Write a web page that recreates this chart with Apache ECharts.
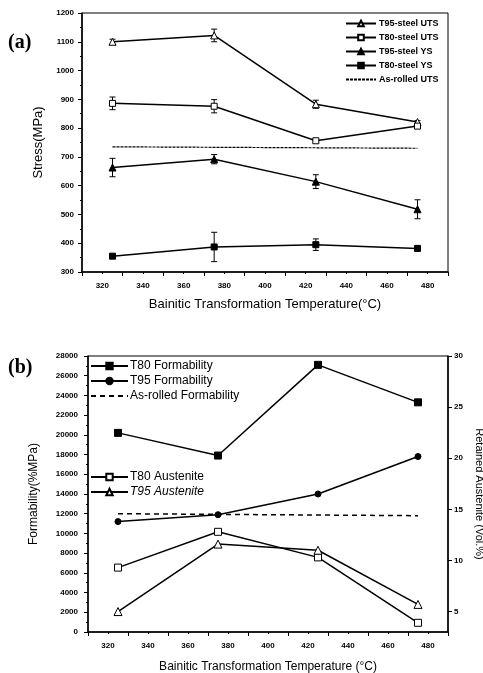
<!DOCTYPE html>
<html>
<head>
<meta charset="utf-8">
<script src="https://cdn.jsdelivr.net/npm/echarts@6/dist/echarts.min.js"></script>
<style>
  html, body { margin: 0; padding: 0; background: #fff; }
  #chart { width: 483px; height: 673px; }
</style>
</head>
<body>
<div id="chart"></div>
<script>
// temperatures (x) shared by both panels
const temps = [325, 375, 425, 475];
const xTicks = [320, 340, 360, 380, 400, 420, 440, 460, 480];

// panel (a) - stress, MPa
const t95Uts = [1100, 1122, 883, 821];
const t95UtsErr = [9, 22, 14, 5];
const t80Uts = [886, 876, 756, 807];
const t80UtsErr = [22, 23, 4, 5];
const t95Ys = [663, 692, 614, 518];
const t95YsErr = [32, 16, 24, 33];
const t80Ys = [355, 387, 395, 382];
const t80YsErr = [0, 51, 20, 0];
const asRolledX = [325, 475];
const asRolledUts = [735, 730];

// panel (b) - formability (%MPa) and retained austenite (vol.%)
const t80Form = [20200, 17900, 27100, 23300];
const t95Form = [11200, 11900, 14000, 17800];
const asRolledForm = [12000, 11800];
const t80Aust = [9.3, 12.8, 10.3, 3.9];
const t95Aust = [5.0, 11.6, 11.0, 5.7];
const austTicks = [5, 10, 15, 20, 25, 30];

const FONT = 'Arial, "Liberation Sans", sans-serif';

function pairs(xs, ys) {
  return xs.map((x, i) => [x, ys[i]]);
}
function errData(ys, errs) {
  return temps.map((x, i) => [x, ys[i], errs[i]]);
}

function errorBars(params, api) {
  const x = api.value(0), y = api.value(1), e = api.value(2);
  if (!e) return;
  const top = api.coord([x, y + e]);
  const bot = api.coord([x, y - e]);
  const hw = 3;
  const st = { stroke: '#000', lineWidth: 1 };
  return {
    type: 'group',
    children: [
      { type: 'line', shape: { x1: top[0], y1: top[1], x2: bot[0], y2: bot[1] }, style: st },
      { type: 'line', shape: { x1: top[0] - hw, y1: top[1], x2: top[0] + hw, y2: top[1] }, style: st },
      { type: 'line', shape: { x1: bot[0] - hw, y1: bot[1], x2: bot[0] + hw, y2: bot[1] }, style: st }
    ]
  };
}

const tickLabel = {
  color: '#000', fontFamily: FONT, fontWeight: 'bold', fontSize: 8,
  formatter: v => String(v)
};

function xAxisFor(grid, gap, name, nameSize) {
  return {
    type: 'value', gridIndex: grid, min: 310, max: 490, interval: 20,
    name: name, nameLocation: 'middle', nameGap: gap,
    nameTextStyle: { color: '#000', fontFamily: FONT, fontSize: nameSize },
    axisLine: { onZero: false, lineStyle: { color: '#000', width: 1.5 } },
    axisTick: { length: 4, lineStyle: { color: '#000' } },
    minorTick: { show: true, splitNumber: 2, length: 2, lineStyle: { color: '#000' } },
    axisLabel: Object.assign({ margin: 10, customValues: xTicks }, tickLabel),
    splitLine: { show: false }
  };
}

function lineSeries(name, x, y, data, symbol, filled, size) {
  return {
    name: name, type: 'line', xAxisIndex: x, yAxisIndex: y,
    data: data, symbol: symbol, symbolSize: size || 6, z: 3,
    lineStyle: { color: '#000', width: 1.5 },
    itemStyle: { color: filled ? '#000' : '#fff', borderColor: '#000', borderWidth: 1 }
  };
}

function refLine(name, x, y, ys, width, dash) {
  return {
    name: name, type: 'line', xAxisIndex: x, yAxisIndex: y, symbol: 'none',
    data: pairs(asRolledX, ys),
    itemStyle: { color: 'rgba(0,0,0,0)', borderWidth: 0 },
    lineStyle: { color: '#000', width: width, type: dash }
  };
}

const chart = echarts.init(document.getElementById('chart'), null, { renderer: 'canvas' });

const option = {
  animation: false,
  backgroundColor: '#fff',
  textStyle: { fontFamily: FONT },
  graphic: [
    { type: 'text', left: 8, top: 33, style: { text: '(a)', font: 'bold 20px "Liberation Serif", "Times New Roman", serif', fill: '#000' } },
    { type: 'text', left: 8, top: 358, style: { text: '(b)', font: 'bold 20px "Liberation Serif", "Times New Roman", serif', fill: '#000' } }
  ],
  grid: [
    { left: 82, top: 13, width: 366, height: 259, show: true, borderColor: '#000', borderWidth: 1, outerBoundsMode: 'none', containLabel: false },
    { left: 88, top: 356, width: 360, height: 276, show: true, borderColor: '#000', borderWidth: 1, outerBoundsMode: 'none', containLabel: false }
  ],
  legend: [
    {
      data: ['T95-steel UTS', 'T80-steel UTS', 'T95-steel YS', 'T80-steel YS', 'As-rolled UTS'],
      orient: 'vertical', left: 345, top: 19, padding: 0, itemWidth: 30, itemHeight: 7, itemGap: 5,
      textStyle: { color: '#000', fontFamily: FONT, fontWeight: 'bold', fontSize: 9, padding: [0, 0, 0, -2] }
    },
    {
      data: ['T80 Formability', 'T95 Formability', 'As-rolled Formability'],
      orient: 'vertical', left: 90, top: 360, padding: 0, itemWidth: 37, itemHeight: 8, itemGap: 3,
      textStyle: { color: '#000', fontFamily: FONT, fontSize: 12, padding: [0, 0, 0, -3] }
    },
    {
      data: ['T80 Austenite', { name: 'T95 Austenite', textStyle: { fontStyle: 'italic' } }],
      orient: 'vertical', left: 90, top: 471, padding: 0, itemWidth: 37, itemHeight: 8, itemGap: 3,
      textStyle: { color: '#000', fontFamily: FONT, fontSize: 12, padding: [0, 0, 0, -3] }
    }
  ],
  xAxis: [
    xAxisFor(0, 26, 'Bainitic Transformation Temperature(°C)', 13),
    xAxisFor(1, 29, 'Bainitic Transformation Temperature (°C)', 12)
  ],
  yAxis: [
    {
      type: 'value', gridIndex: 0, min: 300, max: 1200, interval: 100,
      name: 'Stress(MPa)', nameLocation: 'middle', nameGap: 30,
      nameTextStyle: { color: '#000', fontFamily: FONT, fontSize: 13 },
      axisLine: { show: true, onZero: false, lineStyle: { color: '#000', width: 1.5 } },
      axisTick: { show: true, length: 4, lineStyle: { color: '#000' } },
      minorTick: { show: true, splitNumber: 2, length: 2, lineStyle: { color: '#000' } },
      axisLabel: Object.assign({ margin: 8 }, tickLabel),
      splitLine: { show: false }
    },
    {
      type: 'value', gridIndex: 1, min: 0, max: 28000, interval: 2000,
      name: 'Formability(%MPa)', nameLocation: 'middle', nameGap: 48,
      nameTextStyle: { color: '#000', fontFamily: FONT, fontSize: 12 },
      axisLine: { show: true, onZero: false, lineStyle: { color: '#000', width: 1.5 } },
      axisTick: { show: true, length: 4, lineStyle: { color: '#000' } },
      minorTick: { show: true, splitNumber: 2, length: 2, lineStyle: { color: '#000' } },
      axisLabel: Object.assign({ margin: 10 }, tickLabel),
      splitLine: { show: false }
    },
    {
      type: 'value', gridIndex: 1, position: 'right', min: 3, max: 30,
      name: 'Retained Austenite (Vol.%)', nameLocation: 'middle', nameGap: 21, nameRotate: -90,
      nameTextStyle: { color: '#000', fontFamily: FONT, fontSize: 11 },
      axisLine: { show: true, onZero: false, lineStyle: { color: '#000', width: 1.5 } },
      axisTick: { show: true, length: 4, customValues: austTicks, lineStyle: { color: '#000' } },
      axisLabel: Object.assign({ margin: 6, customValues: austTicks }, tickLabel),
      splitLine: { show: false }
    }
  ],
  series: [
    // panel (a)
    { name: 'err', type: 'custom', xAxisIndex: 0, yAxisIndex: 0, z: 2, renderItem: errorBars, data: errData(t95Uts, t95UtsErr) },
    { name: 'err', type: 'custom', xAxisIndex: 0, yAxisIndex: 0, z: 2, renderItem: errorBars, data: errData(t80Uts, t80UtsErr) },
    { name: 'err', type: 'custom', xAxisIndex: 0, yAxisIndex: 0, z: 2, renderItem: errorBars, data: errData(t95Ys, t95YsErr) },
    { name: 'err', type: 'custom', xAxisIndex: 0, yAxisIndex: 0, z: 2, renderItem: errorBars, data: errData(t80Ys, t80YsErr) },
    lineSeries('T95-steel UTS', 0, 0, pairs(temps, t95Uts), 'triangle', false, 7),
    lineSeries('T80-steel UTS', 0, 0, pairs(temps, t80Uts), 'rect', false, 6),
    lineSeries('T95-steel YS', 0, 0, pairs(temps, t95Ys), 'triangle', true, 7),
    lineSeries('T80-steel YS', 0, 0, pairs(temps, t80Ys), 'rect', true, 6),
    refLine('As-rolled UTS', 0, 0, asRolledUts, 1.2, [3, 1]),
    // panel (b)
    lineSeries('T80 Formability', 1, 1, pairs(temps, t80Form), 'rect', true, 7),
    lineSeries('T95 Formability', 1, 1, pairs(temps, t95Form), 'circle', true, 6),
    refLine('As-rolled Formability', 1, 1, asRolledForm, 1.5, [5, 4]),
    lineSeries('T80 Austenite', 1, 2, pairs(temps, t80Aust), 'rect', false, 7),
    lineSeries('T95 Austenite', 1, 2, pairs(temps, t95Aust), 'triangle', false, 8)
  ]
};

chart.setOption(option);
</script>
</body>
</html>
